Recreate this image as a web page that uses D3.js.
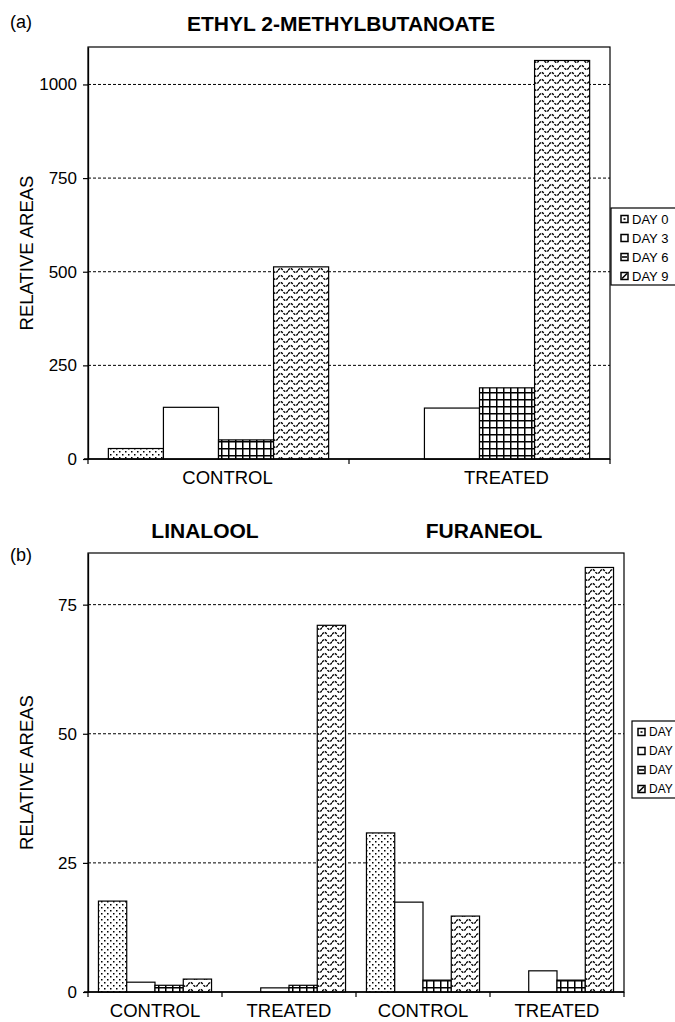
<!DOCTYPE html>
<html>
<head>
<meta charset="utf-8">
<script src="https://cdn.jsdelivr.net/npm/d3@7"></script>
<style>
body { margin: 0; background: #fff; }
text { font-family: Arial, "Liberation Sans", sans-serif; fill: #000; }
</style>
</head>
<body>
<script>
// chart values
var days = ["DAY 0", "DAY 3", "DAY 6", "DAY 9"];

var groupsA = ["CONTROL", "TREATED"];
var ethylControl = [28, 138, 51, 513];
var ethylTreated = [0, 136, 190, 1064];
var ticksA = [0, 250, 500, 750, 1000];

var groupsB = ["CONTROL", "TREATED", "CONTROL", "TREATED"];
var linaloolControl = [17.6, 1.9, 1.3, 2.5];
var linaloolTreated = [0, 0.8, 1.3, 71];
var furaneolControl = [30.8, 17.4, 2.3, 14.7];
var furaneolTreated = [0, 4.1, 2.3, 82.2];
var ticksB = [0, 25, 50, 75];

var W = 675, H = 1022;

var svg = d3.select("body").append("svg")
	.attr("width", W)
	.attr("height", H);
svg.append("rect").attr("width", W).attr("height", H).attr("fill", "#fff");

// fill patterns, one per day
var defs = svg.append("defs");

var p0 = defs.append("pattern").attr("id", "pat0")
	.attr("patternUnits", "userSpaceOnUse").attr("width", 6).attr("height", 6);
p0.append("rect").attr("width", 6).attr("height", 6).attr("fill", "#fff");
p0.append("rect").attr("x", 1).attr("y", 1).attr("width", 1.5).attr("height", 1.5).attr("fill", "#000");
p0.append("rect").attr("x", 4).attr("y", 4).attr("width", 1.5).attr("height", 1.5).attr("fill", "#000");

var p1 = defs.append("pattern").attr("id", "pat1")
	.attr("patternUnits", "userSpaceOnUse").attr("width", 6).attr("height", 6);
p1.append("rect").attr("width", 6).attr("height", 6).attr("fill", "#fff");

var p2 = defs.append("pattern").attr("id", "pat2")
	.attr("patternUnits", "userSpaceOnUse").attr("width", 7).attr("height", 7);
p2.append("rect").attr("width", 7).attr("height", 7).attr("fill", "#fff");
p2.append("path").attr("d", "M0,0.75H7M0.75,0V7")
	.attr("stroke", "#000").attr("stroke-width", 1.5).attr("fill", "none");

var p3 = defs.append("pattern").attr("id", "pat3")
	.attr("patternUnits", "userSpaceOnUse").attr("width", 10).attr("height", 7);
p3.append("rect").attr("width", 10).attr("height", 7).attr("fill", "#fff");
p3.append("path").attr("d", "M0,4.5 Q2.5,0.5 5,4.5 T10,4.5")
	.attr("stroke", "#000").attr("stroke-width", 1.4).attr("fill", "none")
	.attr("stroke-dasharray", "2.5,1");

var fills = ["url(#pat0)", "url(#pat1)", "url(#pat2)", "url(#pat3)"];

function drawPanel(cfg) {
	var g = svg.append("g");

	var y = d3.scaleLinear()
		.domain([0, cfg.yMax])
		.range([cfg.bottom, cfg.top]);

	var x0 = d3.scaleBand()
		.domain(d3.range(cfg.groups.length))
		.range([cfg.left, cfg.right]);
	var bw = x0.bandwidth();
	var pad = bw * 0.078;
	var x1 = d3.scaleBand()
		.domain(d3.range(days.length))
		.range([pad, bw - pad]);

	// plot frame
	g.append("rect")
		.attr("x", cfg.left).attr("y", cfg.top)
		.attr("width", cfg.right - cfg.left)
		.attr("height", cfg.bottom - cfg.top)
		.attr("fill", "none").attr("stroke", "#000").attr("stroke-width", 1.2);

	// dashed gridlines
	g.selectAll(".grid")
		.data(cfg.ticks.filter(function(d) { return d > 0; }))
		.enter().append("line")
			.attr("x1", cfg.left).attr("x2", cfg.right)
			.attr("y1", function(d) { return y(d); })
			.attr("y2", function(d) { return y(d); })
			.attr("stroke", "#000").attr("stroke-width", 1)
			.attr("stroke-dasharray", "3,2");

	// bars, one group per category, pattern by day
	var grp = g.selectAll(".grp")
		.data(cfg.values)
		.enter().append("g")
			.attr("transform", function(d, i) { return "translate(" + x0(i) + ",0)"; });
	grp.selectAll("rect")
		.data(function(d) { return d.map(function(v, k) { return { k: k, v: v }; }); })
		.enter().append("rect")
			.filter(function(d) { return d.v > 0; })
			.attr("x", function(d) { return x1(d.k); })
			.attr("y", function(d) { return y(d.v); })
			.attr("width", x1.bandwidth())
			.attr("height", function(d) { return y(0) - y(d.v); })
			.attr("fill", function(d) { return fills[d.k]; })
			.attr("stroke", "#000").attr("stroke-width", 1.2);

	// y axis
	var yAxis = d3.axisLeft(y).tickValues(cfg.ticks)
		.tickFormat(d3.format("d"))
		.tickSize(5).tickSizeOuter(0).tickPadding(6);
	var ya = g.append("g")
		.attr("transform", "translate(" + cfg.left + ",0)")
		.call(yAxis);
	ya.select(".domain").attr("stroke", "#000").attr("stroke-width", 1.3);
	ya.selectAll(".tick line").attr("stroke", "#000").attr("stroke-width", 1.2);
	ya.selectAll("text").attr("font-size", 17).attr("fill", "#000")
		.attr("font-family", "Arial, 'Liberation Sans', sans-serif");

	// x axis with ticks on category boundaries
	var bounds = d3.range(cfg.groups.length + 1).map(function(i) {
		return i < cfg.groups.length ? x0(i) : cfg.right;
	});
	g.append("line")
		.attr("x1", cfg.left - 4).attr("x2", cfg.right)
		.attr("y1", cfg.bottom).attr("y2", cfg.bottom)
		.attr("stroke", "#000").attr("stroke-width", 1.3);
	g.selectAll(".xt")
		.data(bounds)
		.enter().append("line")
			.attr("x1", function(d) { return d; }).attr("x2", function(d) { return d; })
			.attr("y1", cfg.bottom).attr("y2", cfg.bottom + 5)
			.attr("stroke", "#000").attr("stroke-width", 1.2);
	g.selectAll(".xl")
		.data(cfg.groups)
		.enter().append("text")
			.attr("x", function(d, i) { return x0(i) + bw / 2 + cfg.labelDx[i]; })
			.attr("y", cfg.bottom + 25)
			.attr("text-anchor", "middle")
			.attr("font-size", 18.5)
			.text(function(d) { return d; });

	// axis title
	g.append("text")
		.attr("transform", "translate(" + cfg.yTitleX + "," + ((cfg.top + cfg.bottom) / 2) + ") rotate(-90)")
		.attr("text-anchor", "middle")
		.attr("font-size", 18.5)
		.text("RELATIVE AREAS");

	// legend
	var lg = g.append("g").attr("transform", "translate(" + cfg.legX + "," + cfg.legY + ")");
	lg.append("rect")
		.attr("width", 70).attr("height", 77)
		.attr("fill", "#fff").attr("stroke", "#000").attr("stroke-width", 1.2);
	var item = lg.selectAll(".li")
		.data(days)
		.enter().append("g")
			.attr("transform", function(d, i) { return "translate(0," + (11 + i * 19) + ")"; });
	item.append("rect")
		.attr("x", cfg.legSq).attr("y", -3.5).attr("width", 7).attr("height", 7)
		.attr("fill", "#fff").attr("stroke", "#000").attr("stroke-width", 1.5);
	item.append("path")
		.attr("transform", "translate(" + cfg.legSq + ",0)")
		.attr("d", function(d, i) {
			return ["M2.5,0H4.5", "", "M1,0H6", "M1,2.5L6,-2.5"][i];
		})
		.attr("stroke", "#000").attr("stroke-width", 1.6).attr("fill", "none");
	item.append("text")
		.attr("x", cfg.legSq + 11).attr("y", 0).attr("dy", "0.35em")
		.attr("font-size", cfg.legFont)
		.text(function(d) { return d; });

	return { x0: x0, y: y };
}

// panel (a)
drawPanel({
	left: 88, right: 610, top: 47, bottom: 459,
	yMax: 1100, ticks: ticksA,
	groups: groupsA,
	values: [ethylControl, ethylTreated],
	labelDx: [9, 27],
	yTitleX: 33,
	legX: 611, legY: 208, legSq: 10, legFont: 13
});
svg.append("text").attr("x", 10).attr("y", 28).attr("font-size", 18).text("(a)");
svg.append("text").attr("x", 341).attr("y", 31).attr("text-anchor", "middle")
	.attr("font-size", 21).attr("font-weight", "bold").text("ETHYL 2-METHYLBUTANOATE");

// panel (b)
drawPanel({
	left: 88, right: 624, top: 553, bottom: 992,
	yMax: 85, ticks: ticksB,
	groups: groupsB,
	values: [linaloolControl, linaloolTreated, furaneolControl, furaneolTreated],
	labelDx: [0, 0, 0, 0],
	yTitleX: 33,
	legX: 632, legY: 721, legSq: 6, legFont: 12
});
svg.append("text").attr("x", 10).attr("y", 561).attr("font-size", 18).text("(b)");
svg.append("text").attr("x", 205).attr("y", 538).attr("text-anchor", "middle")
	.attr("font-size", 21).attr("font-weight", "bold").text("LINALOOL");
svg.append("text").attr("x", 484).attr("y", 538).attr("text-anchor", "middle")
	.attr("font-size", 21).attr("font-weight", "bold").text("FURANEOL");
</script>
</body>
</html>
